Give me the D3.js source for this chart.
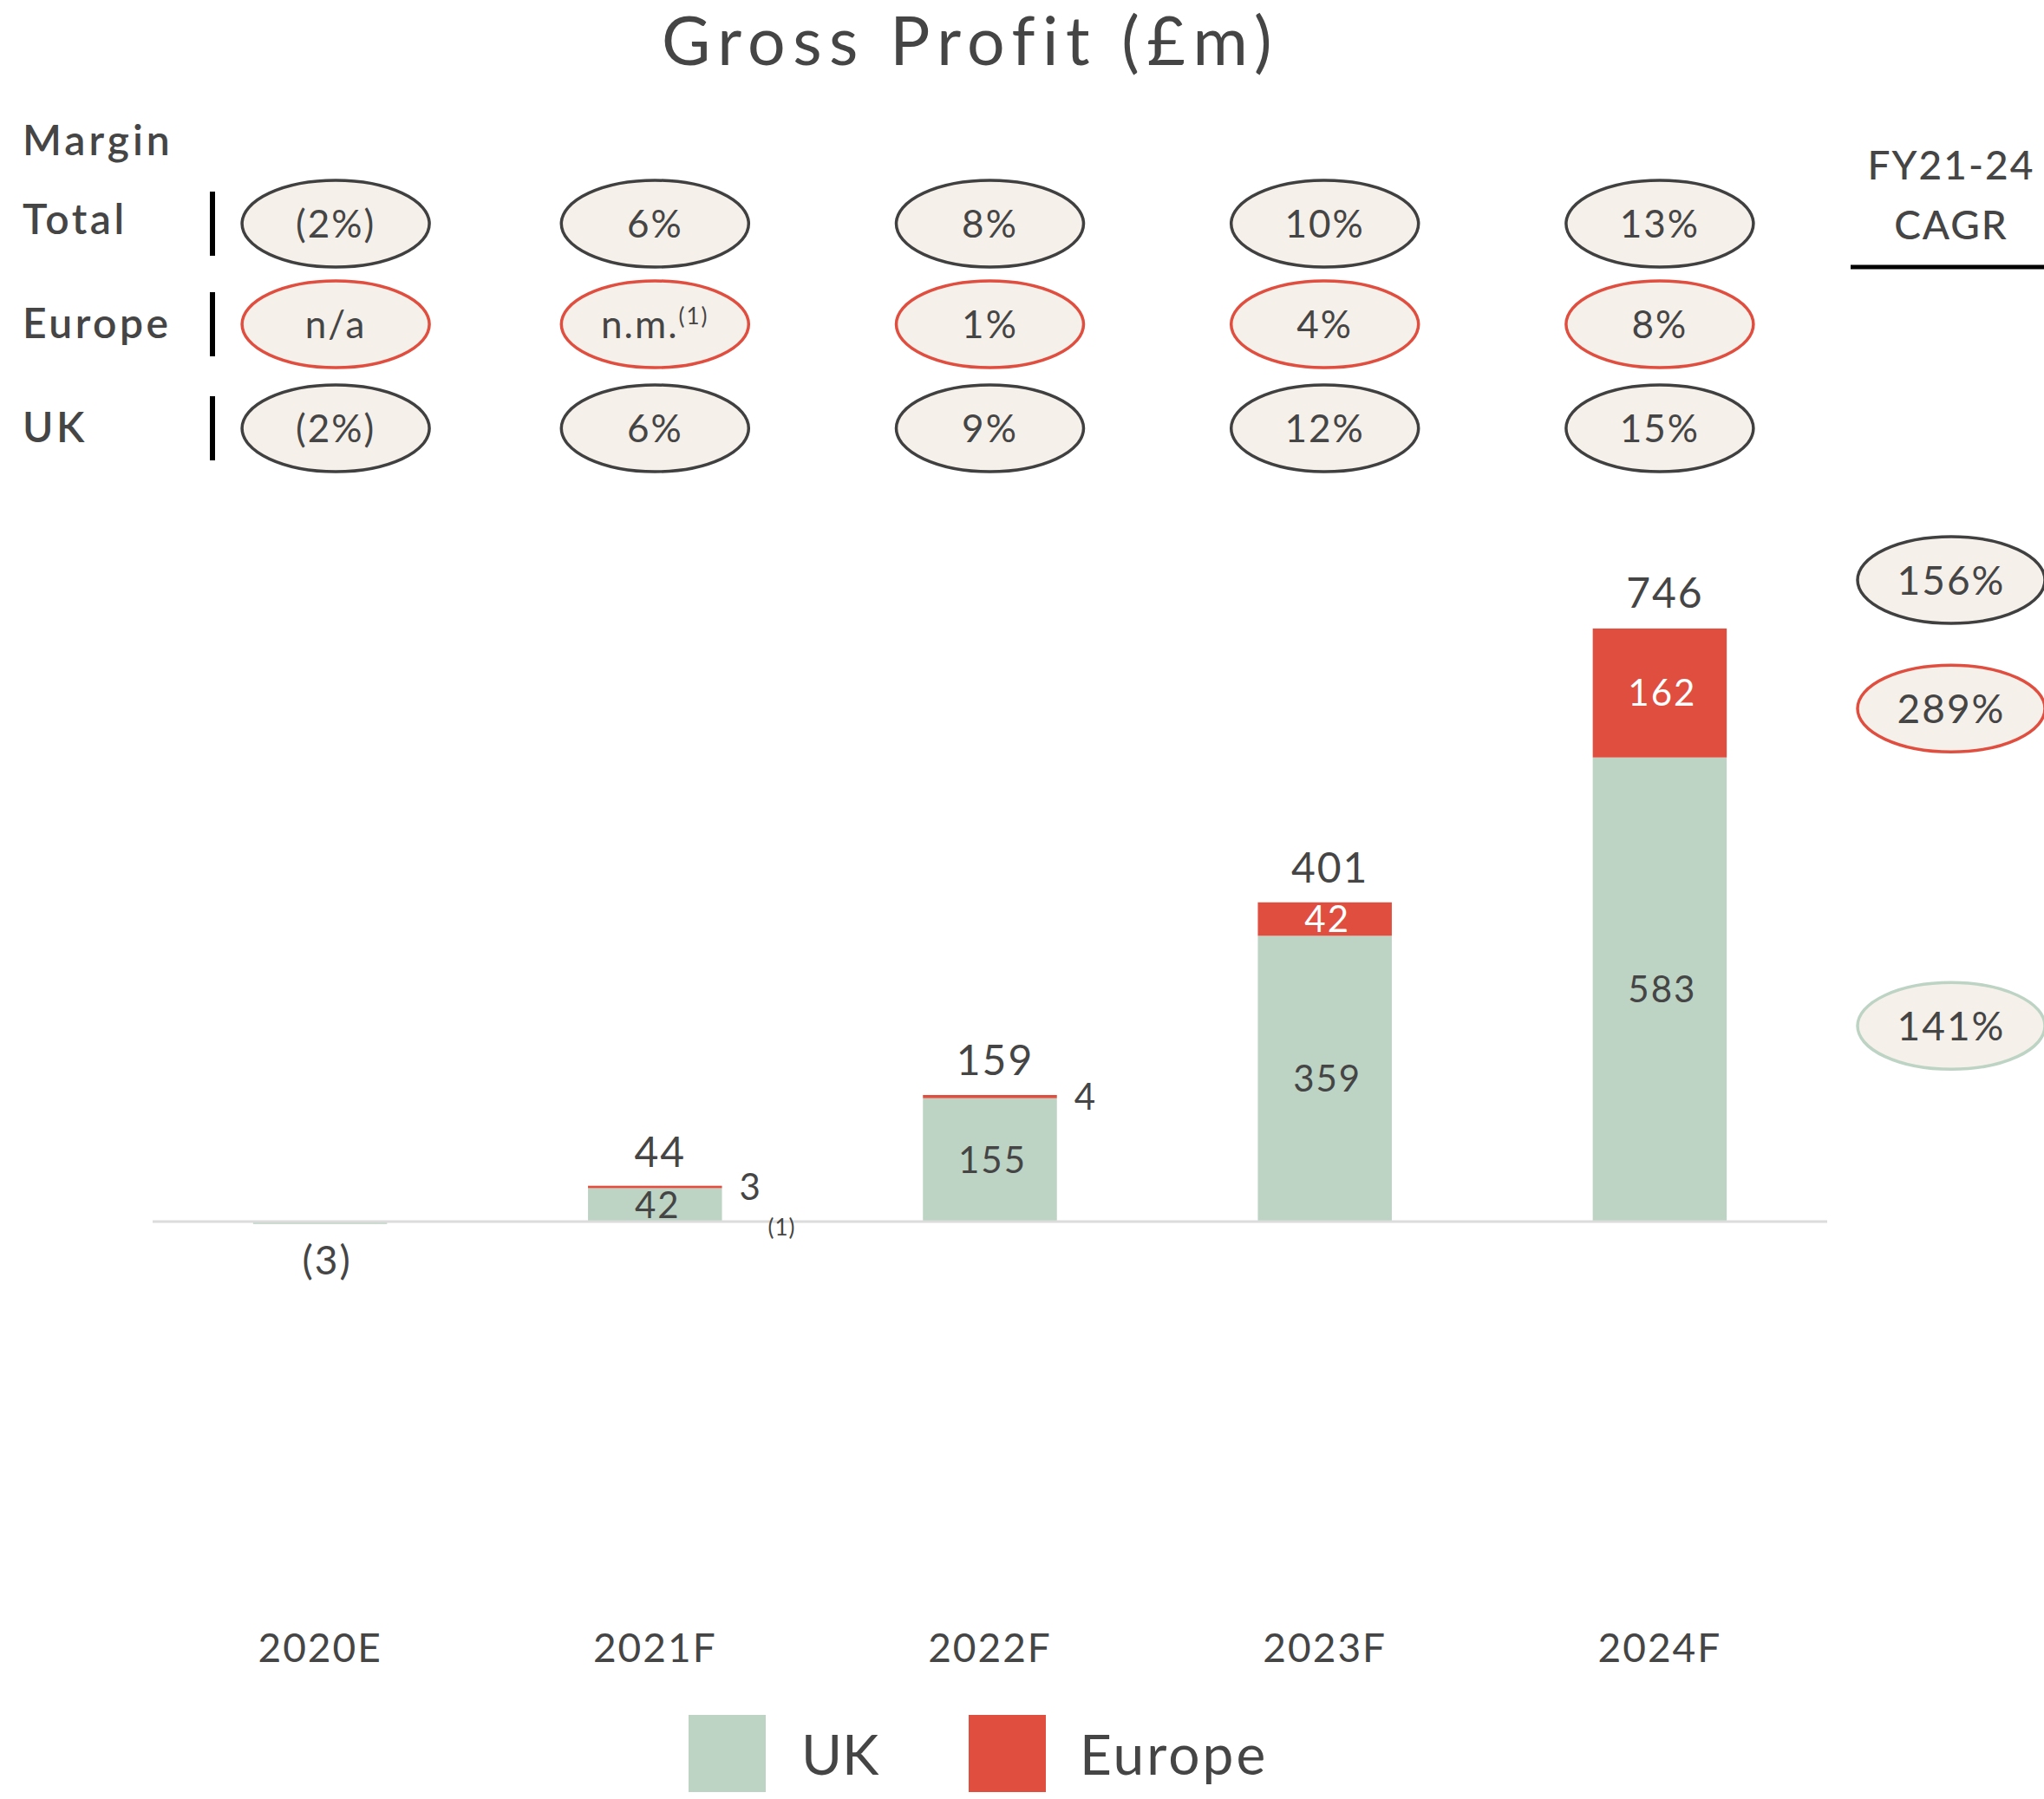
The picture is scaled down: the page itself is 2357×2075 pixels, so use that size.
<!DOCTYPE html>
<html>
<head>
<meta charset="utf-8">
<script src="https://cdn.jsdelivr.net/npm/d3@7"></script>
<style>
  html, body { margin: 0; padding: 0; background: #ffffff; }
  svg { display: block; }
  text { font-family: Lato, "Open Sans", sans-serif; fill: #454545; }
</style>
</head>
<body>
<svg id="chart" width="2357" height="2075"></svg>
<script>
// ---------------- DATA ----------------
const categories = ["2020E", "2021F", "2022F", "2023F", "2024F"];
const ukValues = [-3, 42, 155, 359, 583];
const europeValues = [0, 3, 4, 42, 162];
const totalValues = [-3, 44, 159, 401, 746];

const marginRowNames = ["Total", "Europe", "UK"];
const marginTotal = ["(2%)", "6%", "8%", "10%", "13%"];
const marginEurope = ["n/a", "n.m.", "1%", "4%", "8%"];
const marginEuropeNotes = ["", "(1)", "", "", ""];
const marginUK = ["(2%)", "6%", "9%", "12%", "15%"];

const cagrSeries = ["Total", "Europe", "UK"];
const cagrValues = ["156%", "289%", "141%"];

const seriesNames = ["UK", "Europe"];
const footnoteLabel = "(1)";

// ---------------- STYLE ----------------
const colors = { UK: "#bdd3c4", Europe: "#e04e3f", Total: "#404040" };
const textColor = "#454545";
const ellipseFill = "#f5f0ea";

const W = 2357, H = 2075;
const svg = d3.select("#chart");

const fmt = v => v < 0 ? "(" + Math.abs(v) + ")" : String(v);

// ---------------- SCALES ----------------
const baseY = 1409;
const x = d3.scaleBand().domain(categories).range([176, 2107])
  .paddingInner(0.6).paddingOuter(0.3);
const y = d3.scaleLinear().domain([0, d3.max(totalValues)]).range([baseY, 724]);

const rows = categories.map((c, i) => ({ cat: c, UK: ukValues[i], Europe: europeValues[i] }));
const stack = d3.stack().keys(seriesNames).offset(d3.stackOffsetDiverging);
const stacked = stack(rows);

// ---------------- TITLE ----------------
svg.append("text")
  .attr("x", 1115 + 4).attr("y", 75)
  .attr("text-anchor", "middle")
  .attr("font-size", 77)
  .attr("letter-spacing", 8.5)
  .text("Gross Profit (£m)");

// ---------------- MARGIN TABLE ----------------
svg.append("text").attr("x", 26).attr("y", 179)
  .attr("font-size", 48).attr("font-weight", 600).attr("letter-spacing", 4).text("Margin");

const rowY = { Total: 258, Europe: 374, UK: 494 };
const labelOffset = { Total: 12, Europe: 16, UK: 16 };
const rowStroke = { Total: colors.Total, Europe: colors.Europe, UK: colors.Total };
const rowData = { Total: marginTotal, Europe: marginEurope, UK: marginUK };

marginRowNames.forEach(r => {
  const cy = rowY[r];
  svg.append("text").attr("x", 26).attr("y", cy + labelOffset[r])
    .attr("font-size", 48).attr("font-weight", 600).attr("letter-spacing", 3.5).text(r);
  svg.append("line").attr("x1", 245).attr("x2", 245)
    .attr("y1", cy - 37).attr("y2", cy + 37)
    .attr("stroke", "#000").attr("stroke-width", 6);

  const g = svg.append("g");
  const cells = g.selectAll("g.cell").data(categories).join("g")
    .attr("class", "cell")
    .attr("transform", d => `translate(${x(d) + x.bandwidth() / 2 + (d === categories[0] ? 18 : 0)},${cy})`);
  cells.append("ellipse").attr("rx", 108).attr("ry", 50)
    .attr("fill", ellipseFill).attr("stroke", rowStroke[r]).attr("stroke-width", 3.5);
  const t = cells.append("text").attr("text-anchor", "middle")
    .attr("dy", "0.36em").attr("font-size", 44).attr("letter-spacing", 2);
  t.append("tspan").text((d, i) => rowData[r][i]);
  if (r === "Europe") {
    t.append("tspan").attr("font-size", 26).attr("dy", "-0.6em")
      .text((d, i) => marginEuropeNotes[i]);
  }
});

// ---------------- CAGR COLUMN ----------------
svg.append("text").attr("x", 2250).attr("y", 207).attr("text-anchor", "middle")
  .attr("font-size", 46).attr("font-weight", 500).attr("letter-spacing", 2).text("FY21-24");
svg.append("text").attr("x", 2250).attr("y", 276).attr("text-anchor", "middle")
  .attr("font-size", 46).attr("font-weight", 500).attr("letter-spacing", 2).text("CAGR");
svg.append("line").attr("x1", 2134).attr("x2", W).attr("y1", 308).attr("y2", 308)
  .attr("stroke", "#000").attr("stroke-width", 5);

const lastIdx = categories.length - 1;
const cagrY = {
  Total: y(totalValues[lastIdx]) - 55,
  Europe: y(ukValues[lastIdx] + europeValues[lastIdx] / 2) + 18,
  UK: y(ukValues[lastIdx] / 2) + 42
};
const cagrG = svg.append("g").selectAll("g").data(cagrSeries).join("g")
  .attr("transform", d => `translate(2250,${cagrY[d]})`);
cagrG.append("ellipse").attr("rx", 108).attr("ry", 50)
  .attr("fill", ellipseFill).attr("stroke", d => colors[d]).attr("stroke-width", 3.5);
cagrG.append("text").attr("text-anchor", "middle").attr("dy", "0.36em")
  .attr("font-size", 46).attr("letter-spacing", 2).text((d, i) => cagrValues[i]);

// ---------------- BARS ----------------
const barsG = svg.append("g");
stacked.forEach(layer => {
  barsG.selectAll(null).data(layer).join("rect")
    .attr("x", d => x(d.data.cat))
    .attr("width", x.bandwidth())
    .attr("y", d => y(Math.max(d[0], d[1])))
    .attr("height", d => Math.abs(y(d[0]) - y(d[1])))
    .attr("fill", colors[layer.key]);
});

// baseline
svg.append("line").attr("x1", 176).attr("x2", 2107)
  .attr("y1", baseY).attr("y2", baseY)
  .attr("stroke", "#dcdcdc").attr("stroke-width", 3);

// segment labels
const labelsG = svg.append("g");
stacked.forEach(layer => {
  layer.forEach((d, i) => {
    const v = d.data[layer.key];
    if (v <= 0) return;
    const hpx = Math.abs(y(d[0]) - y(d[1]));
    const cx = x(d.data.cat) + x.bandwidth() / 2;
    const cy = (y(d[0]) + y(d[1])) / 2;
    if (hpx >= 30) {
      labelsG.append("text").attr("x", cx + 3).attr("y", cy).attr("dy", "0.36em")
        .attr("text-anchor", "middle").attr("font-size", 42).attr("letter-spacing", 2)
        .style("fill", layer.key === "Europe" ? "#ffffff" : textColor)
        .text(fmt(v));
    } else {
      labelsG.append("text").attr("x", x(d.data.cat) + x.bandwidth() + 20)
        .attr("y", cy).attr("dy", "0.36em")
        .attr("font-size", 42).text(fmt(v));
    }
  });
});

// totals
categories.forEach((c, i) => {
  const v = totalValues[i];
  const cx = x(c) + x.bandwidth() / 2;
  if (v > 0) {
    svg.append("text").attr("x", cx + 6).attr("y", y(v) - 23)
      .attr("text-anchor", "middle").attr("font-size", 48).attr("letter-spacing", 2).text(fmt(v));
  } else {
    svg.append("text").attr("x", cx + 8).attr("y", baseY + 61)
      .attr("text-anchor", "middle").attr("font-size", 46).attr("letter-spacing", 2).text(fmt(v));
  }
});

// footnote marker under 2021F
svg.append("text")
  .attr("x", x(categories[1]) + x.bandwidth() + 69).attr("y", baseY + 7)
  .attr("dy", "0.36em").attr("text-anchor", "middle")
  .attr("font-size", 26).attr("letter-spacing", 1).text(footnoteLabel);

// ---------------- X AXIS ----------------
const xAxis = d3.axisBottom(x).tickSize(0).tickPadding(0);
const axG = svg.append("g").attr("transform", `translate(0,1917)`).call(xAxis);
axG.select(".domain").remove();
axG.selectAll("text")
  .attr("y", 0).attr("dy", 0)
  .attr("font-size", 46)
  .attr("letter-spacing", 2)
  .style("font-family", "Lato, 'Open Sans', sans-serif")
  .style("fill", textColor);

// ---------------- LEGEND ----------------
const legendItems = [
  { name: seriesNames[0], x: 794, tx: 924 },
  { name: seriesNames[1], x: 1117, tx: 1245 }
];
const lg = svg.append("g").selectAll("g").data(legendItems).join("g");
lg.append("rect").attr("x", d => d.x).attr("y", 1978)
  .attr("width", 89).attr("height", 89).attr("fill", d => colors[d.name]);
lg.append("text").attr("x", d => d.tx).attr("y", 2047)
  .attr("font-size", 64).attr("letter-spacing", d => d.name === "Europe" ? 3 : 0).text(d => d.name);
</script>
</body>
</html>
